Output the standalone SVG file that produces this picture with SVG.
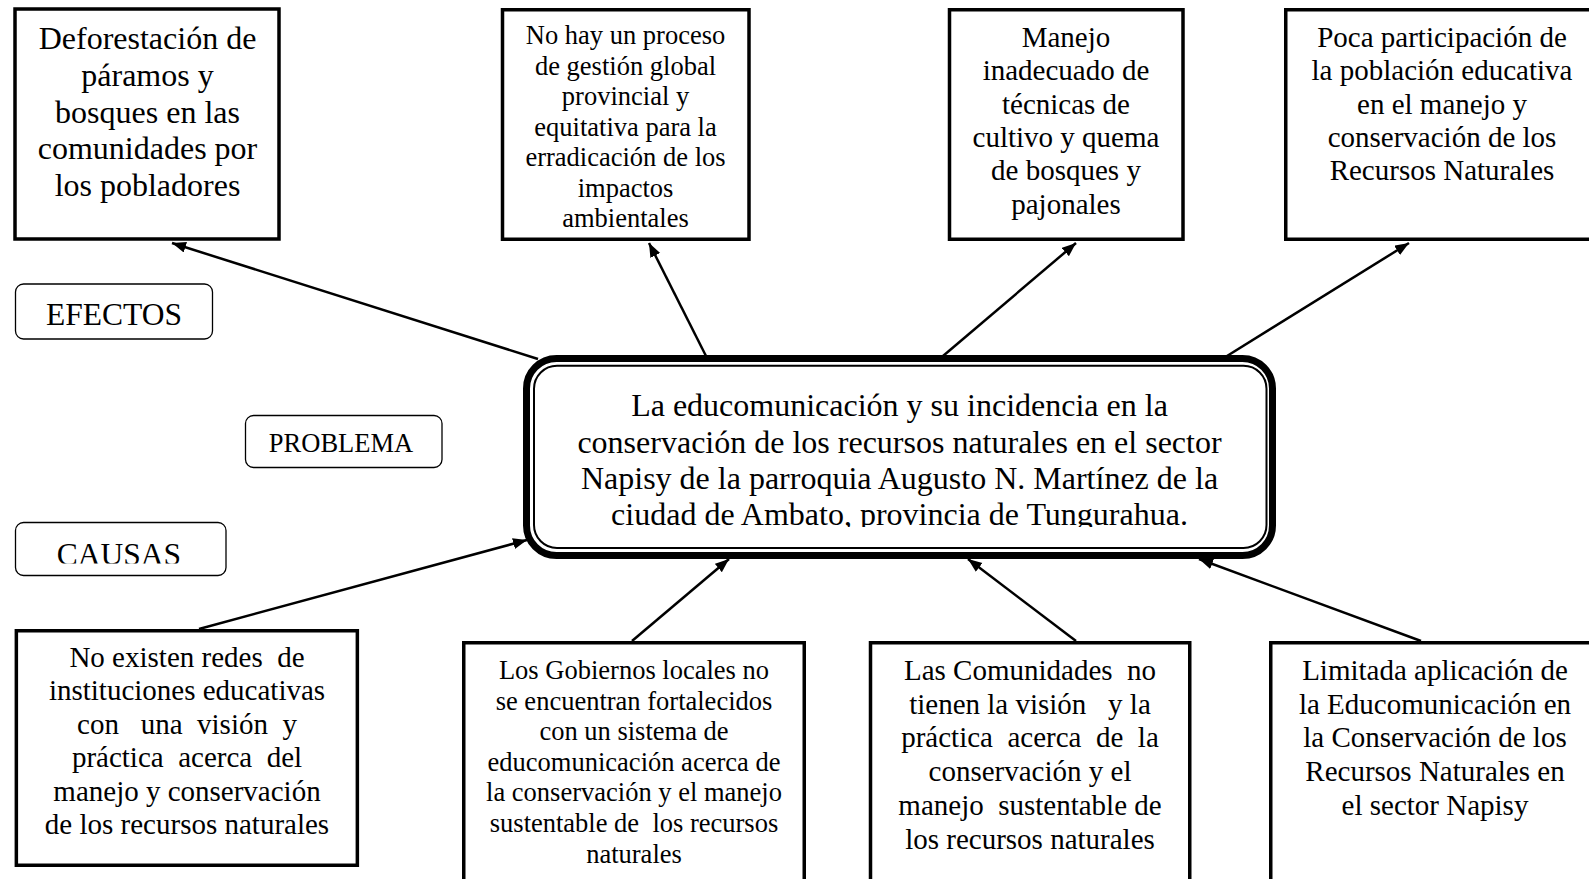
<svg xmlns="http://www.w3.org/2000/svg" width="1589" height="879" viewBox="0 0 1589 879">
<style>
  .box{fill:#fff;stroke:#000;stroke-width:3.5}
  .lbl{fill:#fff;stroke:#000;stroke-width:1.3}
  text{font-family:"Liberation Serif","Times New Roman",serif;fill:#000;text-anchor:middle;white-space:pre}
  .f32{font-size:32px}
  .f29{font-size:29px}
  .f265{font-size:26.5px}
  .conn line{stroke:#000;stroke-width:2.5;marker-end:url(#ah)}
</style>
<defs>
  <marker id="ah" markerUnits="userSpaceOnUse" markerWidth="16" markerHeight="12" refX="14" refY="5.5" orient="auto">
    <path d="M0,0 L14,5.5 L0,11 z" fill="#000"/>
  </marker>
  <clipPath id="clipC"><rect x="0" y="0" width="1589" height="527"/></clipPath>
  <clipPath id="clipCausas"><rect x="0" y="0" width="1589" height="563.5"/></clipPath>
</defs>
<rect width="1589" height="879" fill="#fff"/>

<g id="efecto1">
  <rect class="box" x="15" y="9" width="264" height="230"/>
  <text class="f32"><tspan x="147.5" y="49.3">Deforestación de</tspan><tspan x="147.5" y="86">páramos y</tspan><tspan x="147.5" y="122.7">bosques en las</tspan><tspan x="147.5" y="159">comunidades por</tspan><tspan x="147.5" y="195.5">los pobladores</tspan></text>
</g>
<g id="efecto2">
  <rect class="box" x="502.5" y="9.75" width="246.5" height="229.5"/>
  <text class="f265"><tspan x="625.5" y="44">No hay un proceso</tspan><tspan x="625.5" y="74.5">de gestión global</tspan><tspan x="625.5" y="105">provincial y</tspan><tspan x="625.5" y="135.5">equitativa para la</tspan><tspan x="625.5" y="166">erradicación de los</tspan><tspan x="625.5" y="196.5">impactos</tspan><tspan x="625.5" y="227">ambientales</tspan></text>
</g>
<g id="efecto3">
  <rect class="box" x="949.5" y="9.75" width="233.5" height="229.5"/>
  <text class="f29"><tspan x="1066" y="46.5">Manejo</tspan><tspan x="1066" y="80">inadecuado de</tspan><tspan x="1066" y="113.5">técnicas de</tspan><tspan x="1066" y="147">cultivo y quema</tspan><tspan x="1066" y="180">de bosques y</tspan><tspan x="1066" y="213.5">pajonales</tspan></text>
</g>
<g id="efecto4">
  <rect class="box" x="1285.75" y="9.75" width="320" height="229.5"/>
  <text class="f29"><tspan x="1442" y="47">Poca participación de</tspan><tspan x="1442" y="80.3">la población educativa</tspan><tspan x="1442" y="113.6">en el manejo y</tspan><tspan x="1442" y="147">conservación de los</tspan><tspan x="1442" y="180.3">Recursos Naturales</tspan></text>
</g>

<g id="efectos-label">
  <rect class="lbl" x="15.5" y="284" width="197" height="55" rx="8"/>
  <text class="f32" x="114" y="325" style="font-size:31.5px">EFECTOS</text>
</g>
<g id="problema-label">
  <rect class="lbl" x="245.5" y="415.5" width="196.5" height="52" rx="8"/>
  <text x="341" y="452" style="font-size:26.5px">PROBLEMA</text>
</g>
<g id="causas-label">
  <rect class="lbl" x="15.5" y="522.5" width="210.5" height="53" rx="8"/>
  <text x="119" y="565" clip-path="url(#clipCausas)" style="font-size:31.5px">CAUSAS</text>
</g>

<g id="problema">
  <rect x="526.5" y="358.5" width="746" height="197" rx="30" fill="#fff" stroke="#000" stroke-width="7"/>
  <rect x="534" y="365.7" width="732.5" height="182.3" rx="23" fill="none" stroke="#000" stroke-width="2"/>
  <text class="f32" clip-path="url(#clipC)"><tspan x="899.5" y="416">La educomunicación y su incidencia en la</tspan><tspan x="899.5" y="452.5">conservación de los recursos naturales en el sector</tspan><tspan x="899.5" y="489">Napisy de la parroquia Augusto N. Martínez de la</tspan><tspan x="899.5" y="525">ciudad de Ambato, provincia de Tungurahua.</tspan></text>
</g>

<g id="causa1">
  <rect class="box" x="16.35" y="630.75" width="341" height="234.5"/>
  <text class="f29"><tspan x="187" y="667">No existen redes  de</tspan><tspan x="187" y="700.4">instituciones educativas</tspan><tspan x="187" y="733.8">con   una  visión  y</tspan><tspan x="187" y="767.2">práctica  acerca  del</tspan><tspan x="187" y="800.6">manejo y conservación</tspan><tspan x="187" y="834">de los recursos naturales</tspan></text>
</g>
<g id="causa2">
  <rect class="box" x="463.75" y="642.75" width="340.5" height="250"/>
  <text class="f265"><tspan x="634" y="679">Los Gobiernos locales no</tspan><tspan x="634" y="709.6">se encuentran fortalecidos</tspan><tspan x="634" y="740.2">con un sistema de</tspan><tspan x="634" y="770.8">educomunicación acerca de</tspan><tspan x="634" y="801.4">la conservación y el manejo</tspan><tspan x="634" y="832">sustentable de  los recursos</tspan><tspan x="634" y="862.6">naturales</tspan></text>
</g>
<g id="causa3">
  <rect class="box" x="870.5" y="642.75" width="319.25" height="250"/>
  <text class="f29"><tspan x="1030" y="680">Las Comunidades  no</tspan><tspan x="1030" y="713.7">tienen la visión   y la</tspan><tspan x="1030" y="747.4">práctica  acerca  de  la</tspan><tspan x="1030" y="781.1">conservación y el</tspan><tspan x="1030" y="814.8">manejo  sustentable de</tspan><tspan x="1030" y="848.5">los recursos naturales</tspan></text>
</g>
<g id="causa4">
  <rect class="box" x="1270.75" y="642.75" width="330" height="250"/>
  <text class="f29"><tspan x="1435" y="680">Limitada aplicación de</tspan><tspan x="1435" y="713.7">la Educomunicación en</tspan><tspan x="1435" y="747.4">la Conservación de los</tspan><tspan x="1435" y="781.1">Recursos Naturales en</tspan><tspan x="1435" y="814.8">el sector Napisy</tspan></text>
</g>

<g id="connectors" class="conn">
  <line x1="538" y1="359" x2="172" y2="243"/>
  <line x1="706" y1="356" x2="649" y2="243"/>
  <line x1="943" y1="356" x2="1076" y2="243"/>
  <line x1="1227" y1="356" x2="1409" y2="243"/>
  <line x1="199" y1="629" x2="527" y2="540"/>
  <line x1="632" y1="641" x2="729" y2="559"/>
  <line x1="1076" y1="641" x2="968" y2="559"/>
  <line x1="1421" y1="641" x2="1199" y2="559"/>
</g>
</svg>
